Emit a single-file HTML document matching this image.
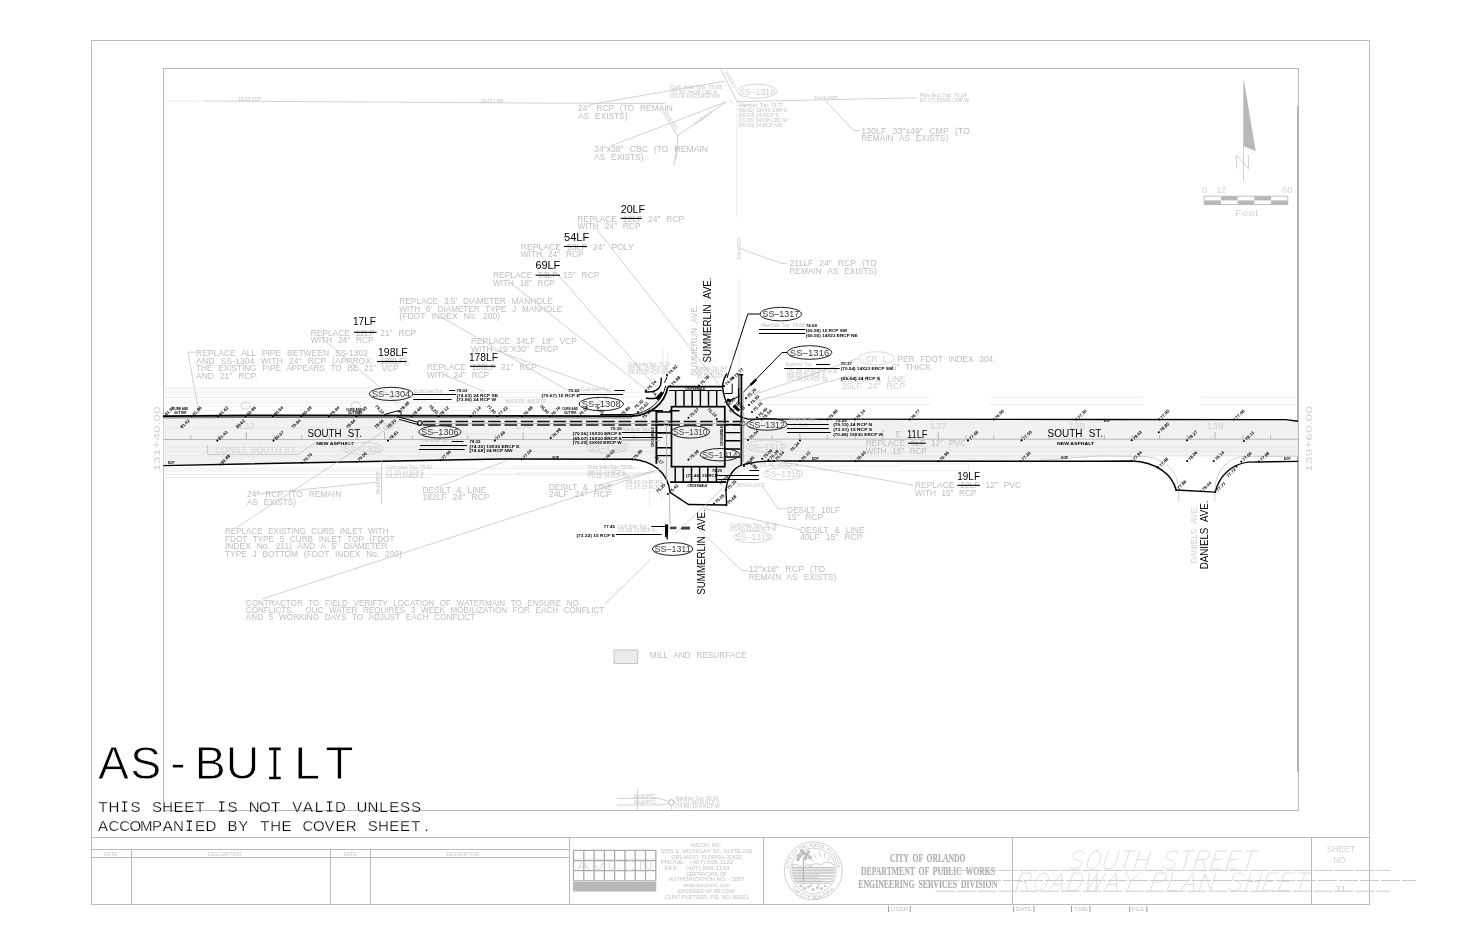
<!DOCTYPE html>
<html><head><meta charset="utf-8"><title>As-Built Roadway Plan Sheet 31</title>
<style>
html,body{margin:0;padding:0;background:#fff;}
body{width:1458px;height:945px;overflow:hidden;}
svg{display:block;will-change:transform;font-family:"Liberation Sans",sans-serif;}
text{font-family:"Liberation Sans",sans-serif;white-space:pre;}
path,ellipse,circle,rect,line{fill:none;}
/* frame */
.fr{stroke:#bbbbbb;stroke-width:1;shape-rendering:crispEdges;}
.fr2{stroke:#a6a6a6;stroke-width:1.4;shape-rendering:crispEdges;}
/* generic gray line work */
.l{stroke:#bdbdbd;stroke-width:.7;}
.lf{stroke:#e4e4e4;stroke-width:.7;}
.lff{stroke:#ededed;stroke-width:.7;}
.kt{stroke:#333;stroke-width:.7;}
.lm{stroke:#a8a8a8;stroke-width:.8;}
.ld{stroke:#c4c4c4;stroke-width:.9;stroke-dasharray:19 2;}
/* black line work */
.k{stroke:#000;stroke-width:1;}
.k2{stroke:#000;stroke-width:1.8;}
.kr{stroke:#000;stroke-width:1.45;}
.k15{stroke:#000;stroke-width:1.4;}
.k3{stroke:#000;stroke-width:1.8;}
.kd{stroke:#111;stroke-width:1.5;stroke-dasharray:12.5 3.8;}
.kf{fill:#000;stroke:none;}
.road{fill:#f1f1f1;stroke:none;}
/* ellipses */
.e{stroke:#111;stroke-width:.95;}
.eg{stroke:#cfcfcf;stroke-width:.8;}
/* text */
.g{fill:#bebebe;font-size:9.2px;word-spacing:.42em;}
.gl{fill:#d0d0d0;font-size:9.2px;word-spacing:.42em;}
.gs{fill:#c2c2c2;font-size:4.6px;}
.gt{fill:#c4c4c4;font-size:5.6px;}
.b{fill:#000;font-size:10.4px;word-spacing:.35em;}
.bs{fill:#000;font-size:4.3px;font-weight:bold;}
.sp{fill:#000;font-size:4.3px;font-weight:bold;}
.ss{fill:#3c3c3c;font-size:9.2px;}
.ssg{fill:#cfcfcf;font-size:9.2px;}
.st{fill:#d3d3d3;font-size:9.4px;}
.ab{fill:#000;font-size:46.4px;stroke:#fff;stroke-width:.8px;}
.ab2{fill:#000;font-size:15px;stroke:#fff;stroke-width:.25px;}
.ser{font-family:"Liberation Serif",serif;font-weight:bold;fill:#adadad;font-size:12.2px;word-spacing:.25em;stroke:#adadad;stroke-width:.15px;}
.ttl{stroke:#d6d6d6;stroke-width:.045;stroke-linecap:round;stroke-linejoin:round;}

</style></head>
<body>
<svg width="1458" height="945" viewBox="0 0 1458 945">
<!-- sheet frame -->
<g id="frame">
<rect class="fr" x="91.5" y="40.5" width="1278" height="864"/>
<rect class="fr" x="163.5" y="68.5" width="1135" height="742"/>
<rect x="1297" y="106" width="2" height="665.5" style="fill:#b2b2b2"/>
<path class="fr" d="M91.5,837.5H1369.5 M131.5,849.5V904 M330.5,849.5V904 M370.5,849.5V904 M569.5,837.5V904 M763.5,837.5V904 M1012.5,837.5V904 M1311.5,837.5V904 M91.5,849.5H569.5 M91.5,857.5H569.5"/>
</g>
<text class="gt" x="110.7" y="855.6" textLength="13.0" lengthAdjust="spacingAndGlyphs" text-anchor="middle">DATE</text>
<text class="gt" x="224.6" y="855.6" textLength="33.0" lengthAdjust="spacingAndGlyphs" text-anchor="middle">DESCRIPTION</text>
<text class="gt" x="350.0" y="855.6" textLength="13.0" lengthAdjust="spacingAndGlyphs" text-anchor="middle">DATE</text>
<text class="gt" x="463.0" y="855.6" textLength="33.0" lengthAdjust="spacingAndGlyphs" text-anchor="middle">DESCRIPTION</text>
<g id="avcon">
<path d="M573.5,850.3V880.8M583.8,850.3V880.8M594.1,850.3V880.8M604.4,850.3V880.8M614.6,850.3V880.8M624.9,850.3V880.8M635.2,850.3V880.8M645.5,850.3V880.8M655.8,850.3V880.8M573.5,850.3H655.8M573.5,860.5H655.8M573.5,870.6H655.8M573.5,880.8H655.8" style="stroke:#ababab;stroke-width:1.3"/>
<rect x="573" y="882" width="83.2" height="9.6" style="fill:#b8b8b8"/>
<path transform="translate(577.0 860.4) scale(15 10.2)" d="M0,1L.4,0L.8,1M.15,.65H.65" style="stroke:#c9c9c9;stroke-width:.06"/>
<path transform="translate(592.6 860.4) scale(15 10.2)" d="M0,0L.4,1L.8,0" style="stroke:#c9c9c9;stroke-width:.06"/>
<path transform="translate(608.2 860.4) scale(15 10.2)" d="M.78,.2C.7,.06 .58,0 .44,0C.2,0 .06,.2 .06,.5C.06,.8 .2,1 .44,1C.58,1 .7,.94 .78,.8" style="stroke:#c9c9c9;stroke-width:.06"/>
<path transform="translate(623.8 860.4) scale(15 10.2)" d="M.42,0C.18,0 .06,.2 .06,.5C.06,.8 .18,1 .42,1C.66,1 .78,.8 .78,.5C.78,.2 .66,0 .42,0Z" style="stroke:#c9c9c9;stroke-width:.06"/>
<path transform="translate(639.4 860.4) scale(15 10.2)" d="M.08,1V0L.76,1V0" style="stroke:#c9c9c9;stroke-width:.06"/>
</g>
<text class="gs" x="706.5" y="846.9" textLength="32.0" lengthAdjust="spacingAndGlyphs" font-size="5.4" text-anchor="middle">AVCON, INC.</text>
<text class="gs" x="706.5" y="853.0" textLength="91.0" lengthAdjust="spacingAndGlyphs" font-size="5.4" text-anchor="middle">5555 E. MICHIGAN ST., SUITE 200</text>
<text class="gs" x="706.5" y="858.6" textLength="70.0" lengthAdjust="spacingAndGlyphs" font-size="5.4" text-anchor="middle">ORLANDO, FLORIDA 32822</text>
<text class="gs" x="697.0" y="864.3" textLength="73.0" lengthAdjust="spacingAndGlyphs" font-size="5.4" text-anchor="middle">PHONE:   (407) 599-1122</text>
<text class="gs" x="697.0" y="869.9" textLength="65.0" lengthAdjust="spacingAndGlyphs" font-size="5.4" text-anchor="middle">FAX:    (407) 599-1133</text>
<text class="gs" x="706.5" y="875.6" textLength="40.0" lengthAdjust="spacingAndGlyphs" font-size="5.4" text-anchor="middle">CERTIFICATE OF</text>
<text class="gs" x="706.5" y="881.2" textLength="76.0" lengthAdjust="spacingAndGlyphs" font-size="5.4" text-anchor="middle">AUTHORIZATION NO. - 5057</text>
<text class="gs" x="706.5" y="886.9" textLength="47.0" lengthAdjust="spacingAndGlyphs" font-size="5.4" text-anchor="middle">www.avconinc.com</text>
<text class="gs" x="706.5" y="892.7" textLength="58.0" lengthAdjust="spacingAndGlyphs" font-size="5.4" text-anchor="middle">ENGINEER OF RECORD</text>
<text class="gs" x="706.5" y="898.9" textLength="84.0" lengthAdjust="spacingAndGlyphs" font-size="5.4" text-anchor="middle">CLINT PLETZER, P.E. NO. 69221</text>
<g id="seal" style="stroke:#bcbcbc;stroke-width:.7">
<circle cx="813.3" cy="870.9" r="29"/><circle cx="813.3" cy="870.9" r="22.8"/>
<path id="sealtop" d="M790.47,879.21A24.3,24.3 0 1 1 836.13,879.21" style="stroke:none"/>
<path id="sealbot" d="M788.55,883.78A27.9,27.9 0 0 0 838.05,883.78" style="stroke:none"/>
<path d="M792.0,867.6H834.6M791.8,869.1H834.8M791.7,870.7H834.9M791.7,872.2H834.9M791.9,873.8H834.7M792.2,875.3H834.4M792.6,876.9H834.0M793.1,878.4H833.5M793.7,880.0H832.9M794.5,881.5H832.1M795.5,883.1H831.1" style="stroke:#c3c3c3;stroke-width:1"/>
<path d="M820,874.5H835M818,877.6H834M822,880.7H832" style="stroke:#fff;stroke-width:.9"/>
<path d="M809,867.6C812,863.5 817,862.5 821,865.5C824,861.5 830,861 835,866" style="stroke-width:.8"/>
<path d="M814,854.5L816.5,859M819,851.5L820.5,857M824.5,853L825,858.5M829,856.5L827.8,861.5M811.5,858.5L813.5,862" style="stroke-width:.7"/>
<path d="M803.5,858V881" style="stroke:#b4b4b4;stroke-width:1.3"/>
<circle cx="799.5" cy="856" r="2.3" style="fill:#bdbdbd;stroke:none"/>
<circle cx="803" cy="853" r="2.4" style="fill:#bdbdbd;stroke:none"/>
<circle cx="807" cy="854.5" r="2.3" style="fill:#bdbdbd;stroke:none"/>
<circle cx="810" cy="857.5" r="2" style="fill:#bdbdbd;stroke:none"/>
<circle cx="798" cy="859.5" r="1.8" style="fill:#bdbdbd;stroke:none"/>
<circle cx="805.5" cy="858" r="2" style="fill:#bdbdbd;stroke:none"/>
<circle cx="801.5" cy="851" r="1.7" style="fill:#bdbdbd;stroke:none"/>
<circle cx="808.5" cy="851.5" r="1.6" style="fill:#bdbdbd;stroke:none"/>
<path d="M792.5,867.5V864.5H797V866H801V867.5M806,867.5V865H811V867.5" style="stroke-width:.7"/>
<circle cx="801" cy="886" r="1.6" style="fill:#c9c9c9;stroke:none"/>
<circle cx="804.5" cy="888.5" r="1.7" style="fill:#c9c9c9;stroke:none"/>
<circle cx="808.5" cy="887" r="1.4" style="fill:#c9c9c9;stroke:none"/>
<circle cx="813" cy="889.5" r="1.6" style="fill:#c9c9c9;stroke:none"/>
<circle cx="817.5" cy="887.5" r="1.5" style="fill:#c9c9c9;stroke:none"/>
<circle cx="821.5" cy="888.5" r="1.5" style="fill:#c9c9c9;stroke:none"/>
<circle cx="825" cy="886" r="1.3" style="fill:#c9c9c9;stroke:none"/>
<circle cx="811" cy="885.5" r="1.2" style="fill:#c9c9c9;stroke:none"/>
<circle cx="819" cy="884.8" r="1.1" style="fill:#c9c9c9;stroke:none"/>
</g>
<text class="gs" font-size="6.2" style="fill:#b2b2b2;letter-spacing:.28px"><textPath href="#sealtop" startOffset="50%" text-anchor="middle">CITY OF ORLANDO, FLORIDA</textPath></text>
<text class="gs" font-size="5.7" style="fill:#b2b2b2;letter-spacing:.1px"><textPath href="#sealbot" startOffset="50%" text-anchor="middle">THE CITY BEAUTIFUL</textPath></text>
<text class="ser" x="927.7" y="862.2" textLength="75.2" lengthAdjust="spacingAndGlyphs" text-anchor="middle">CITY OF ORLANDO</text>
<text class="ser" x="928.0" y="874.9" textLength="134.0" lengthAdjust="spacingAndGlyphs" text-anchor="middle">DEPARTMENT OF PUBLIC WORKS</text>
<text class="ser" x="927.8" y="887.8" textLength="139.0" lengthAdjust="spacingAndGlyphs" text-anchor="middle">ENGINEERING SERVICES DIVISION</text>
<path class="ld" d="M935.5,870.4H1390"/>
<path class="ld" d="M919,880.5H1416"/>
<path class="ld" d="M935.5,891.2H1390"/>
<path d="M888.5,906V912M910.3,906V912" style="stroke:#9c9c9c;stroke-width:1"/>
<text class="gt" x="899.4" y="911.0" textLength="17.3" lengthAdjust="spacingAndGlyphs" font-size="5.6" text-anchor="middle">USER</text>
<path d="M1013.6,906V912M1034.0,906V912" style="stroke:#9c9c9c;stroke-width:1"/>
<text class="gt" x="1023.8" y="911.0" textLength="15.9" lengthAdjust="spacingAndGlyphs" font-size="5.6" text-anchor="middle">DATE</text>
<path d="M1071.5,906V912M1090.0,906V912" style="stroke:#9c9c9c;stroke-width:1"/>
<text class="gt" x="1080.8" y="911.0" textLength="14.0" lengthAdjust="spacingAndGlyphs" font-size="5.6" text-anchor="middle">TIME</text>
<path d="M1129.8,906V912M1146.8,906V912" style="stroke:#9c9c9c;stroke-width:1"/>
<text class="gt" x="1138.3" y="911.0" textLength="12.5" lengthAdjust="spacingAndGlyphs" font-size="5.6" text-anchor="middle">FILE</text>
<text class="st" x="1341.0" y="852.0" textLength="28.3" lengthAdjust="spacingAndGlyphs" font-size="9.6" text-anchor="middle">SHEET</text>
<text class="st" x="1340.7" y="862.8" textLength="14.2" lengthAdjust="spacingAndGlyphs" font-size="9.6" text-anchor="middle">NO.</text>
<text class="st" x="1340.4" y="891.5" textLength="11.2" lengthAdjust="spacingAndGlyphs" font-size="11.4" text-anchor="middle">31</text>
<g class="ttl" transform="translate(1067.6 869.0) skewX(-18) scale(16.033 18.0) translate(0 -1)">
<path transform="translate(0.000 0)" d="M.75,.14C.68,.04 .56,0 .42,0C.2,0 .08,.1 .08,.25C.08,.42 .25,.46 .42,.5C.62,.55 .78,.6 .78,.76C.78,.92 .62,1 .42,1C.25,1 .12,.95 .05,.84"/>
<path transform="translate(1.050 0)" d="M.42,0C.18,0 .06,.2 .06,.5C.06,.8 .18,1 .42,1C.66,1 .78,.8 .78,.5C.78,.2 .66,0 .42,0Z"/>
<path transform="translate(2.100 0)" d="M.08,0V.7C.08,.9 .2,1 .42,1C.64,1 .76,.9 .76,.7V0"/>
<path transform="translate(3.150 0)" d="M0,0H.7M.35,0V1"/>
<path transform="translate(4.070 0)" d="M.08,0V1M.76,0V1M.08,.48H.76"/>
<path transform="translate(5.820 0)" d="M.75,.14C.68,.04 .56,0 .42,0C.2,0 .08,.1 .08,.25C.08,.42 .25,.46 .42,.5C.62,.55 .78,.6 .78,.76C.78,.92 .62,1 .42,1C.25,1 .12,.95 .05,.84"/>
<path transform="translate(6.870 0)" d="M0,0H.7M.35,0V1"/>
<path transform="translate(7.790 0)" d="M.08,1V0H.48C.68,0 .76,.1 .76,.24C.76,.38 .68,.48 .48,.48H.08M.46,.48L.78,1"/>
<path transform="translate(8.840 0)" d="M.7,0H.08V1H.7M.08,.48H.5"/>
<path transform="translate(9.820 0)" d="M.7,0H.08V1H.7M.08,.48H.5"/>
<path transform="translate(10.800 0)" d="M0,0H.7M.35,0V1"/>
</g>
<g class="ttl" transform="translate(1014.5 890.6) skewX(-18) scale(16.449 17.5) translate(0 -1)">
<path transform="translate(0.000 0)" d="M.08,1V0H.48C.68,0 .76,.1 .76,.24C.76,.38 .68,.48 .48,.48H.08M.46,.48L.78,1"/>
<path transform="translate(1.050 0)" d="M.42,0C.18,0 .06,.2 .06,.5C.06,.8 .18,1 .42,1C.66,1 .78,.8 .78,.5C.78,.2 .66,0 .42,0Z"/>
<path transform="translate(2.100 0)" d="M0,1L.4,0L.8,1M.15,.65H.65"/>
<path transform="translate(3.140 0)" d="M.08,0V1H.4C.66,1 .78,.8 .78,.5C.78,.2 .66,0 .4,0Z"/>
<path transform="translate(4.190 0)" d="M0,0L.25,1L.5,0L.75,1L1,0"/>
<path transform="translate(5.430 0)" d="M0,1L.4,0L.8,1M.15,.65H.65"/>
<path transform="translate(6.470 0)" d="M0,0L.4,.48L.8,0M.4,.48V1"/>
<path transform="translate(8.190 0)" d="M.08,1V0H.48C.68,0 .76,.1 .76,.26C.76,.42 .68,.52 .48,.52H.08"/>
<path transform="translate(9.210 0)" d="M.08,0V1H.66"/>
<path transform="translate(10.110 0)" d="M0,1L.4,0L.8,1M.15,.65H.65"/>
<path transform="translate(11.150 0)" d="M.08,1V0L.76,1V0"/>
<path transform="translate(12.900 0)" d="M.75,.14C.68,.04 .56,0 .42,0C.2,0 .08,.1 .08,.25C.08,.42 .25,.46 .42,.5C.62,.55 .78,.6 .78,.76C.78,.92 .62,1 .42,1C.25,1 .12,.95 .05,.84"/>
<path transform="translate(13.950 0)" d="M.08,0V1M.76,0V1M.08,.48H.76"/>
<path transform="translate(15.000 0)" d="M.7,0H.08V1H.7M.08,.48H.5"/>
<path transform="translate(15.980 0)" d="M.7,0H.08V1H.7M.08,.48H.5"/>
<path transform="translate(16.960 0)" d="M0,0H.7M.35,0V1"/>
</g>
<text class="ab" x="113.4" y="779.4" text-anchor="middle">A</text>
<text class="ab" x="145.7" y="779.4" text-anchor="middle">S</text>
<text class="ab" x="178.0" y="779.4" text-anchor="middle">-</text>
<text class="ab" x="210.3" y="779.4" text-anchor="middle">B</text>
<text class="ab" x="242.6" y="779.4" text-anchor="middle">U</text>
<path d="M269.1,748.8H280.7M269.1,778H280.7M274.9,748.8V778" style="stroke:#000;stroke-width:2.7"/>
<text class="ab" x="307.2" y="779.4" text-anchor="middle">L</text>
<text class="ab" x="339.5" y="779.4" text-anchor="middle">T</text>
<text class="ab2" x="103.0" y="811.5" text-anchor="middle">T</text>
<text class="ab2" x="113.8" y="811.5" text-anchor="middle">H</text>
<path d="M121.9,801.9H127.3M121.9,811.0H127.3M124.6,801.9V811.0" style="stroke:#000;stroke-width:1.05"/>
<text class="ab2" x="135.4" y="811.5" text-anchor="middle">S</text>
<text class="ab2" x="156.9" y="811.5" text-anchor="middle">S</text>
<text class="ab2" x="167.7" y="811.5" text-anchor="middle">H</text>
<text class="ab2" x="178.5" y="811.5" text-anchor="middle">E</text>
<text class="ab2" x="189.3" y="811.5" text-anchor="middle">E</text>
<text class="ab2" x="200.1" y="811.5" text-anchor="middle">T</text>
<path d="M219.0,801.9H224.4M219.0,811.0H224.4M221.7,801.9V811.0" style="stroke:#000;stroke-width:1.05"/>
<text class="ab2" x="232.5" y="811.5" text-anchor="middle">S</text>
<text class="ab2" x="254.1" y="811.5" text-anchor="middle">N</text>
<text class="ab2" x="264.9" y="811.5" text-anchor="middle">O</text>
<text class="ab2" x="275.6" y="811.5" text-anchor="middle">T</text>
<text class="ab2" x="297.2" y="811.5" text-anchor="middle">V</text>
<text class="ab2" x="308.0" y="811.5" text-anchor="middle">A</text>
<text class="ab2" x="318.8" y="811.5" text-anchor="middle">L</text>
<path d="M326.9,801.9H332.3M326.9,811.0H332.3M329.6,801.9V811.0" style="stroke:#000;stroke-width:1.05"/>
<text class="ab2" x="340.4" y="811.5" text-anchor="middle">D</text>
<text class="ab2" x="362.0" y="811.5" text-anchor="middle">U</text>
<text class="ab2" x="372.8" y="811.5" text-anchor="middle">N</text>
<text class="ab2" x="383.5" y="811.5" text-anchor="middle">L</text>
<text class="ab2" x="394.3" y="811.5" text-anchor="middle">E</text>
<text class="ab2" x="405.1" y="811.5" text-anchor="middle">S</text>
<text class="ab2" x="415.9" y="811.5" text-anchor="middle">S</text>
<text class="ab2" x="103.0" y="830.7" text-anchor="middle">A</text>
<text class="ab2" x="113.8" y="830.7" text-anchor="middle">C</text>
<text class="ab2" x="124.6" y="830.7" text-anchor="middle">C</text>
<text class="ab2" x="135.4" y="830.7" text-anchor="middle">O</text>
<text class="ab2" x="146.2" y="830.7" text-anchor="middle">M</text>
<text class="ab2" x="156.9" y="830.7" text-anchor="middle">P</text>
<text class="ab2" x="167.7" y="830.7" text-anchor="middle">A</text>
<text class="ab2" x="178.5" y="830.7" text-anchor="middle">N</text>
<path d="M186.6,821.1H192.0M186.6,830.2H192.0M189.3,821.1V830.2" style="stroke:#000;stroke-width:1.05"/>
<text class="ab2" x="200.1" y="830.7" text-anchor="middle">E</text>
<text class="ab2" x="210.9" y="830.7" text-anchor="middle">D</text>
<text class="ab2" x="232.5" y="830.7" text-anchor="middle">B</text>
<text class="ab2" x="243.3" y="830.7" text-anchor="middle">Y</text>
<text class="ab2" x="264.9" y="830.7" text-anchor="middle">T</text>
<text class="ab2" x="275.6" y="830.7" text-anchor="middle">H</text>
<text class="ab2" x="286.4" y="830.7" text-anchor="middle">E</text>
<text class="ab2" x="308.0" y="830.7" text-anchor="middle">C</text>
<text class="ab2" x="318.8" y="830.7" text-anchor="middle">O</text>
<text class="ab2" x="329.6" y="830.7" text-anchor="middle">V</text>
<text class="ab2" x="340.4" y="830.7" text-anchor="middle">E</text>
<text class="ab2" x="351.2" y="830.7" text-anchor="middle">R</text>
<text class="ab2" x="372.8" y="830.7" text-anchor="middle">S</text>
<text class="ab2" x="383.5" y="830.7" text-anchor="middle">H</text>
<text class="ab2" x="394.3" y="830.7" text-anchor="middle">E</text>
<text class="ab2" x="405.1" y="830.7" text-anchor="middle">E</text>
<text class="ab2" x="415.9" y="830.7" text-anchor="middle">T</text>
<text class="ab2" x="426.7" y="830.7" text-anchor="middle">.</text>
<g id="north">
<path d="M1244,81L1243.5,146.2L1255.7,150.9Z" style="fill:#b8b8b8"/>
<path class="l" d="M1243.5,81V181"/>
<path class="l" d="M1236.4,168.7V155.2L1248.6,168.7V155.2"/>
</g>
<g id="scalebar">
<rect x="1204.2" y="200.4" width="16.7" height="4.2" style="fill:#b8b8b8"/>
<rect x="1220.9" y="196.2" width="16.7" height="4.2" style="fill:#b8b8b8"/>
<rect x="1237.6" y="200.4" width="16.7" height="4.2" style="fill:#b8b8b8"/>
<rect x="1254.4" y="196.2" width="16.7" height="4.2" style="fill:#b8b8b8"/>
<rect x="1271.1" y="200.4" width="16.7" height="4.2" style="fill:#b8b8b8"/>
<rect x="1204.2" y="196.2" width="83.6" height="8.4" style="stroke:#b8b8b8;stroke-width:.9"/>
<text class="st" x="1204.5" y="192.7" font-size="8.2" text-anchor="middle">0</text>
<text class="st" x="1221.2" y="192.7" textLength="9.0" lengthAdjust="spacingAndGlyphs" font-size="8.2" text-anchor="middle">12</text>
<text class="st" x="1287.3" y="192.7" textLength="10.5" lengthAdjust="spacingAndGlyphs" font-size="8.2" text-anchor="middle">60</text>
<text class="st" x="1246.6" y="216.4" textLength="23.0" lengthAdjust="spacingAndGlyphs" font-size="9.6" text-anchor="middle">Feet</text>
</g>
<rect x="614" y="650" width="23.8" height="13.5" style="fill:#ebebeb;stroke:#bdbdbd;stroke-width:.8"/>
<text class="g" x="649.8" y="657.8" textLength="97.0" lengthAdjust="spacingAndGlyphs" font-size="7.8">MILL AND RESURFACE</text>
<g id="faint">
<path class="lf" d="M163.5,388.0H372"/>
<path class="lf" d="M163.5,392.3H640"/>
<path class="lf" d="M163.5,397.3H640"/>
<path class="lf" d="M163.5,402.8H640"/>
<path class="lf" d="M163.5,468.3H640"/>
<path class="lf" d="M163.5,470.8H380"/>
<path class="lf" d="M163.5,474.4H640"/>
<path class="lf" d="M163.5,477.3H430"/>
<path class="lf" d="M514,466.0H632"/>
<path class="lf" d="M514,472.8H660"/>
<path class="lff" d="M163.5,390.2H600"/>
<path class="lff" d="M163.5,395.0H372"/>
<path class="lff" d="M163.5,400.2H600"/>
<path class="lff" d="M163.5,406.6H560"/>
<path class="lff" d="M200,410.6H640"/>
<path class="lf" d="M762,397.4H930M990,397.4H1142M1202,397.4H1297"/>
<path class="lf" d="M762,404.5H930M990,404.5H1142M1202,404.5H1297"/>
<path class="lf" d="M762,466H900M790,470H860M900,464H968.8V470.5H900"/>
<path class="l" d="M242.0,407.8c-1.5,-1 -1.5,-3 0,-3.5c0,-2 2.5,-3 4,-1.8c1.5,-1.2 3.6,0 3.4,1.8c1.6,.6 1.6,2.8 0,3.5c-1,1.6 -3,1.6 -3.8,.4c-1.2,.9 -3,.6 -3.6,-.4z"/>
<path class="l" d="M352.0,407.5c-1.5,-1 -1.5,-3 0,-3.5c0,-2 2.5,-3 4,-1.8c1.5,-1.2 3.6,0 3.4,1.8c1.6,.6 1.6,2.8 0,3.5c-1,1.6 -3,1.6 -3.8,.4c-1.2,.9 -3,.6 -3.6,-.4z"/>
<path class="l" d="M598.0,400.0c-1.5,-1 -1.5,-3 0,-3.5c0,-2 2.5,-3 4,-1.8c1.5,-1.2 3.6,0 3.4,1.8c1.6,.6 1.6,2.8 0,3.5c-1,1.6 -3,1.6 -3.8,.4c-1.2,.9 -3,.6 -3.6,-.4z"/>
</g>
<g id="roadfill">
<path class="road" d="M163.5,416.5 L632,416 C650,414.5 665,404 667.8,386.7 L722.6,386.7 C724,404 733,416 748,419 L1286,419.6 L1298,421.3 L1298,456.4 L1100,455.8 L1040,460.6 L775,461 C756,462 742,470 728,482.2 L670,482.2 C662,470 650,460 632,459.2 L500,459 L163.5,465.6Z"/>
</g>
<g id="inroad">
<path class="lf" d="M163.5,447.2H656"/>
<path class="lf" d="M163.5,451.4H656"/>
<path class="lf" d="M163.5,456.0H500"/>
<path class="lf" d="M163.5,428.0H400"/>
<path class="lf" d="M420,434.0H656"/>
<path class="lf" d="M742,447.2H1298"/>
<path class="lf" d="M742,451.4H1298"/>
<path class="lf" d="M742,456.0H1298"/>
</g>
<g id="baseline">
<path class="lm" d="M163.5,439.5H656M742,439.2H1298"/>
<path class="lm" d="M190.9,439.4V435.2M218.6,439.4V435.2M246.3,439.4V432.0M274.0,439.4V435.2M301.7,439.4V435.2M329.3,439.4V435.2M357.0,439.4V435.2M384.7,439.4V432.0M412.4,439.4V435.2M440.1,439.4V435.2M467.7,439.4V435.2M495.4,439.4V435.2M523.1,439.4V432.0M550.8,439.4V435.2M578.5,439.4V435.2M606.1,439.4V435.2M633.8,439.4V435.2M772.2,439.4V435.2M799.9,439.4V432.0M827.6,439.4V435.2M855.3,439.4V435.2M882.9,439.4V435.2M910.6,439.4V435.2M938.3,439.4V432.0M966.0,439.4V435.2M993.7,439.4V435.2M1021.3,439.4V435.2M1049.0,439.4V435.2M1076.7,439.4V432.0M1104.4,439.4V435.2M1132.1,439.4V435.2M1159.7,439.4V435.2M1187.4,439.4V435.2M1215.1,439.4V432.0M1242.8,439.4V435.2M1270.5,439.4V435.2"/>
<text class="st" x="246.3" y="428.8" textLength="17.0" lengthAdjust="spacingAndGlyphs" text-anchor="middle">132</text>
<text class="st" x="384.7" y="428.8" textLength="17.0" lengthAdjust="spacingAndGlyphs" text-anchor="middle">133</text>
<text class="st" x="523.1" y="428.8" textLength="17.0" lengthAdjust="spacingAndGlyphs" text-anchor="middle">134</text>
<text class="st" x="799.9" y="428.8" textLength="17.0" lengthAdjust="spacingAndGlyphs" text-anchor="middle">136</text>
<text class="st" x="938.3" y="428.8" textLength="17.0" lengthAdjust="spacingAndGlyphs" text-anchor="middle">137</text>
<text class="st" x="1076.7" y="428.8" textLength="17.0" lengthAdjust="spacingAndGlyphs" text-anchor="middle">138</text>
<text class="st" x="1215.1" y="428.8" textLength="17.0" lengthAdjust="spacingAndGlyphs" text-anchor="middle">139</text>
<text class="st" x="159.6" y="471.5" textLength="65.0" lengthAdjust="spacingAndGlyphs" font-size="13.2" transform="rotate(-90 159.6 471.5)">131+40.00</text>
<text class="st" x="1312.0" y="472.0" textLength="66.0" lengthAdjust="spacingAndGlyphs" font-size="13.2" transform="rotate(-90 1312.0 472.0)">139+60.00</text>
<text class="st" x="214.9" y="452.8" textLength="82.0" lengthAdjust="spacingAndGlyphs" font-size="8.0">CONST. SOUTH ST.</text>
<path class="l" d="M207.5,446V454.4M206,446H209M208,454.4H298.2L315.5,442.3"/>
</g>
<path class="l" d="M1040,460.4L1100,455.9L1142.3,456.4M1243.9,456.4L1298,456.3"/>
<path class="l" d="M1142.3,456.4C1163,457 1178,470 1178.7,490V501.6M1243.9,456.4C1228,458 1215.5,470 1214.9,490V501.6"/>
<path class="lm" d="M670,492C669,503 670,514 670,524.5"/>
<path class="lf" d="M649.6,473V507M661.6,473V500"/>
<g id="edges">
<path class="k2" d="M163.5,416.2L250,415.5L335,415.5L632,416.2C650,415 665,404 667.8,386.7"/>
<path class="kt" d="M163.5,417.9L250,417.5L632,417.9"/>
<path class="k" d="M600,414.6L632,414.5C648,413 662,402 665.6,386"/>
<path class="k15" d="M644.7,391.8C652,392.6 658,391 660.6,385.2C661.4,382 661.4,380 661.2,377.6"/>
<path class="k15" d="M163.5,465.6L500,459L632,459.2C652,460.5 668,472 670,492.3L688.6,504.5L726.7,505L725.9,490.6C727,478 733,468 741.5,465.2"/>
<path class="k15" d="M748,419.1L1100,419.5L1286,419.6L1298,421.3"/>
<path class="k15" d="M722.6,386.7C724,404 733,416 748,419.1"/>
<path class="k15" d="M722.6,386.7C722.8,382 724.5,377 727,373.5"/>
<path class="k15" d="M741.5,465.2C752,462 763,461 775,461L1100,461.3L1131.7,461C1156,462 1172,474 1176.2,490L1215.3,492.1C1219,476 1232,464 1248,462.1L1298,461.4"/>
</g>
<g id="xing">
<rect x="671.5" y="406.7" width="53.3" height="60" style="stroke:#000;stroke-width:1.7"/>
<path class="k3" d="M667.8,386.7H722.6"/>
<path class="k" d="M669,390.5H722"/>
<path class="kr" d="M675.6,391V406M684.0,391V406M692.2,391V406M700.4,391V406M708.5,391V406M716.7,391V406"/>
<path class="k3" d="M670,482.2H726.3"/>
<path class="kr" d="M675.2,467.5V482M683.3,467.5V482M691.5,467.5V482M699.6,467.5V482M707.8,467.5V482M716.4,467.5V482"/>
<path class="k3" d="M656.4,411V463.8"/>
<path class="kr" d="M656.4,412.0H671M656.4,424.5H671M656.4,433.0H671M656.4,447.8H671M656.4,455.6H671"/>
<path class="k3" d="M741.4,374.5V465.2"/>
<path class="lm" d="M743.6,392V462"/>
<path class="kr" d="M725,424.7H740.4M725,432.6H740.4M725,440.7H740.4M725,448.9H740.4M725,457.0H740.4"/>
<text class="bs" x="695.3" y="389.9" textLength="20.0" lengthAdjust="spacingAndGlyphs" font-size="3.2" text-anchor="middle">CROSSWALK</text>
<text class="bs" x="697.5" y="487.0" textLength="20.0" lengthAdjust="spacingAndGlyphs" font-size="3.2" text-anchor="middle">CROSSWALK</text>
<text class="bs" x="722.6" y="436.0" textLength="20.0" lengthAdjust="spacingAndGlyphs" font-size="3.2" text-anchor="middle" transform="rotate(-90 722.6 436.0)">CROSSWALK</text>
<text class="bs" x="654.2" y="437.0" textLength="20.0" lengthAdjust="spacingAndGlyphs" font-size="3.2" text-anchor="middle" transform="rotate(-90 654.2 437.0)">CROSSWALK</text>
<path d="M656.7,399.3L662.4,392.3" style="stroke:#000;stroke-width:3.1"/>
<path d="M733.5,405.6L739.2,410.7" style="stroke:#000;stroke-width:3.1"/>
<path d="M727.1,399.3L731,401.4" style="stroke:#000;stroke-width:2.6"/>
<path d="M738.7,374.5V404.4M737.8,374.8H743.2" style="stroke:#000;stroke-width:1.6"/>
<path class="k15" d="M645.9,398C651,398.9 654,398.6 656.5,398"/>
<path class="k" d="M664.3,382.8C665.8,380 667,377.5 667.5,375"/>
<path class="k15" d="M652,410.7H663M669.4,410.7H679.5"/>
<path class="k" d="M732.2,383.5V393.5H724.6"/>
<path class="k" d="M724.6,402.5L740,396"/>
</g>
<g id="pipes">
<path class="lm" d="M420,423.4H742"/>
<path class="kd" d="M423,421.5H742"/>
<path class="kd" d="M423,424.9H742"/>
<circle cx="419.9" cy="423.1" r="2.3" style="stroke:#000;stroke-width:1.1"/>
<path class="k" d="M397,416.6L417.8,422.2M399,419.4L418.4,424.6"/>
<path class="k" d="M384.3,414.6L397,411H401V414.6"/>
<circle cx="666.5" cy="423.3" r="2.6" style="stroke:#9a9a9a;stroke-width:.9"/>
<circle cx="742.8" cy="423.4" r="2.4" style="stroke:#555;stroke-width:.9"/>
<path class="lm" d="M666.5,426V482"/>
<path class="lm" d="M742.3,426V466"/>
<path class="kf" d="M665.9,524.5H668.3L667.8,539.4H666.6Z"/>
<path d="M665.8,524.5V537" style="stroke:#000;stroke-width:1.6"/>
<rect x="670" y="526.6" width="6.5" height="2.6" style="fill:#444"/>
<rect x="681" y="526.6" width="9" height="3" style="fill:#444"/>
</g>
<g id="top">
<path class="lf" d="M163.5,100.8L205,101"/>
<path class="l" d="M205,101L560,103.2L665,103.5"/>
<text class="gs" x="238.4" y="101.1" textLength="22.6" lengthAdjust="spacingAndGlyphs" font-size="4.2">15x15 VCP</text>
<text class="gs" x="480.5" y="103.0" textLength="22.8" lengthAdjust="spacingAndGlyphs" font-size="4.2">18x18 CMP</text>
<path class="l" d="M589.6,104.6L724.6,81.2"/>
<path class="l" d="M726,102L609,146.5"/>
<path class="l" d="M726,102L677.7,135.8"/>
<path class="l" d="M660.4,108.7L677.7,135.8C678,146 676,156 673.6,165.5"/>
<path class="l" d="M720.5,68.5L737,101.3"/>
<path class="lf" d="M736.9,101.5V217.7M738.8,278V388"/>
<path class="l" d="M736.3,101.7L915.9,97.8"/>
<text class="gs" x="670.0" y="89.0" textLength="52.0" lengthAdjust="spacingAndGlyphs">Curb Inlet Top: 73.83</text>
<text class="gs" x="670.0" y="93.7" textLength="47.0" lengthAdjust="spacingAndGlyphs">(70.36) 34x38 CBC E</text>
<text class="gs" x="670.0" y="98.3" textLength="50.0" lengthAdjust="spacingAndGlyphs">(70.24) 14X23 RCP NW</text>
<text class="gs" x="738.6" y="107.4" textLength="44.8" lengthAdjust="spacingAndGlyphs">Manhole Top: 75.77</text>
<text class="gs" x="738.6" y="112.2" textLength="49.0" lengthAdjust="spacingAndGlyphs">(69.62) 33X49 CMP E</text>
<text class="gs" x="738.6" y="117.0" textLength="40.0" lengthAdjust="spacingAndGlyphs">(65.64) 24 RCP S</text>
<text class="gs" x="738.6" y="121.9" textLength="49.0" lengthAdjust="spacingAndGlyphs">(70.30) 34X38 CBC W</text>
<text class="gs" x="738.6" y="126.7" textLength="44.0" lengthAdjust="spacingAndGlyphs">(65.60) 24 RCP NW</text>
<text class="gs" x="919.7" y="97.3" textLength="47.0" lengthAdjust="spacingAndGlyphs">Pipe End Top: 76.24</text>
<text class="gs" x="919.7" y="101.7" textLength="49.3" lengthAdjust="spacingAndGlyphs">(67.07) 33X49 CMP W</text>
<text class="gs" x="814.1" y="99.6" textLength="23.0" lengthAdjust="spacingAndGlyphs" font-size="4.2" transform="rotate(-1.2 814.1 99.6)">33x49 CMP</text>
<text class="gs" x="695.0" y="125.5" textLength="21.0" lengthAdjust="spacingAndGlyphs" font-size="4.2" transform="rotate(-35 695.0 125.5)">14x23 RCP</text>
<text class="gs" x="664.0" y="112.0" textLength="21.0" lengthAdjust="spacingAndGlyphs" font-size="4.2" transform="rotate(57 664.0 112.0)">24x38 CBC</text>
<text class="gs" x="676.5" y="160.0" textLength="13.0" lengthAdjust="spacingAndGlyphs" font-size="4.2" transform="rotate(-80 676.5 160.0)">24x38</text>
<text class="gs" x="725.0" y="72.0" textLength="20.0" lengthAdjust="spacingAndGlyphs" font-size="4.2" transform="rotate(63 725.0 72.0)">14x23 RCP</text>
<text class="gs" x="740.5" y="259.5" textLength="22.0" lengthAdjust="spacingAndGlyphs" font-size="4.2" transform="rotate(-90 740.5 259.5)">24x4 RCP</text>
<rect x="738.2" y="100.8" width="1.2" height="1.2" style="fill:#f2c24a"/><rect x="730" y="100.8" width="1.2" height="1.2" style="fill:#f2c24a"/>
<ellipse class="eg" cx="757.0" cy="91.2" rx="20.0" ry="7.0"/>
<text class="ssg" x="757.0" y="94.5" textLength="36.0" lengthAdjust="spacingAndGlyphs" text-anchor="middle">SS–1318</text>
</g>
<g id="notes">
<text class="g" x="578.1" y="110.8" textLength="94.7" lengthAdjust="spacingAndGlyphs">24" RCP (TO REMAIN</text>
<text class="g" x="578.1" y="118.6" textLength="49.5" lengthAdjust="spacingAndGlyphs">AS EXISTS)</text>
<text class="g" x="594.1" y="152.3" textLength="114.0" lengthAdjust="spacingAndGlyphs">34"x38" CBC (TO REMAIN</text>
<text class="g" x="594.1" y="160.2" textLength="49.5" lengthAdjust="spacingAndGlyphs">AS EXISTS)</text>
<text class="g" x="861.2" y="133.8" textLength="108.8" lengthAdjust="spacingAndGlyphs">130LF 33"x49" CMP (TO</text>
<text class="g" x="861.2" y="141.4" textLength="87.0" lengthAdjust="spacingAndGlyphs">REMAIN AS EXISTS)</text>
<text class="g" x="789.4" y="266.4" textLength="87.3" lengthAdjust="spacingAndGlyphs">211LF 24" RCP (TO</text>
<text class="g" x="789.4" y="274.4" textLength="87.3" lengthAdjust="spacingAndGlyphs">REMAIN AS EXISTS)</text>
<text class="g" x="577.5" y="221.6" textLength="106.7" lengthAdjust="spacingAndGlyphs">REPLACE 12LF 24" RCP</text>
<text class="g" x="577.5" y="229.0" textLength="63.0" lengthAdjust="spacingAndGlyphs">WITH 24" RCP</text>
<text class="g" x="520.7" y="250.0" textLength="113.1" lengthAdjust="spacingAndGlyphs">REPLACE 53LF 24" POLY</text>
<text class="g" x="520.7" y="257.4" textLength="63.0" lengthAdjust="spacingAndGlyphs">WITH 24" RCP</text>
<text class="g" x="493.0" y="278.4" textLength="106.3" lengthAdjust="spacingAndGlyphs">REPLACE 53LF 15" RCP</text>
<text class="g" x="493.0" y="285.8" textLength="61.8" lengthAdjust="spacingAndGlyphs">WITH 18" RCP</text>
<text class="g" x="399.3" y="304.0" textLength="153.5" lengthAdjust="spacingAndGlyphs">REPLACE 3.5' DIAMETER MANHOLE</text>
<text class="g" x="399.3" y="311.6" textLength="162.9" lengthAdjust="spacingAndGlyphs">WITH 6' DIAMETER TYPE J MANHOLE</text>
<text class="g" x="399.3" y="319.1" textLength="100.9" lengthAdjust="spacingAndGlyphs">(FDOT INDEX No. 200)</text>
<text class="g" x="470.9" y="344.3" textLength="105.9" lengthAdjust="spacingAndGlyphs">REPLACE 34LF 18" VCP</text>
<text class="g" x="470.9" y="351.8" textLength="87.4" lengthAdjust="spacingAndGlyphs">WITH 19"X30" ERCP</text>
<text class="g" x="426.9" y="369.8" textLength="109.9" lengthAdjust="spacingAndGlyphs">REPLACE 188LF 21" RCP</text>
<text class="g" x="426.9" y="377.7" textLength="62.2" lengthAdjust="spacingAndGlyphs">WITH 24" RCP</text>
<text class="g" x="310.8" y="335.5" textLength="105.2" lengthAdjust="spacingAndGlyphs">REPLACE 12LF 21" RCP</text>
<text class="g" x="310.8" y="342.6" textLength="62.8" lengthAdjust="spacingAndGlyphs">WITH 24" RCP</text>
<text class="g" x="196.1" y="356.3" textLength="171.9" lengthAdjust="spacingAndGlyphs">REPLACE ALL PIPE BETWEEN SS-1302</text>
<text class="g" x="196.1" y="363.8" textLength="213.6" lengthAdjust="spacingAndGlyphs">AND SS-1304 WITH 24" RCP (APPROX. 188LF).</text>
<text class="g" x="196.1" y="371.2" textLength="202.6" lengthAdjust="spacingAndGlyphs">THE EXISTING PIPE APPEARS TO BE 21" VCP</text>
<text class="g" x="196.1" y="378.7" textLength="61.3" lengthAdjust="spacingAndGlyphs">AND 21" RCP.</text>
<text class="g" x="247.1" y="497.4" textLength="94.1" lengthAdjust="spacingAndGlyphs">24" RCP (TO REMAIN</text>
<text class="g" x="247.1" y="505.1" textLength="48.9" lengthAdjust="spacingAndGlyphs">AS EXISTS)</text>
<text class="g" x="225.0" y="533.9" textLength="163.6" lengthAdjust="spacingAndGlyphs">REPLACE EXISTING CURB INLET WITH</text>
<text class="g" x="225.0" y="541.5" textLength="169.4" lengthAdjust="spacingAndGlyphs">FDOT TYPE 5 CURB INLET TOP (FDOT</text>
<text class="g" x="225.0" y="549.0" textLength="162.3" lengthAdjust="spacingAndGlyphs">INDEX No. 211) AND A 5' DIAMETER</text>
<text class="g" x="225.0" y="556.6" textLength="176.7" lengthAdjust="spacingAndGlyphs">TYPE J BOTTOM (FDOT INDEX No. 200)</text>
<text class="g" x="422.4" y="492.6" textLength="63.6" lengthAdjust="spacingAndGlyphs">DESILT &amp; LINE</text>
<text class="g" x="422.4" y="499.8" textLength="67.1" lengthAdjust="spacingAndGlyphs">182LF 24" RCP</text>
<text class="g" x="548.8" y="490.0" textLength="63.8" lengthAdjust="spacingAndGlyphs">DESILT &amp; LINE</text>
<text class="g" x="548.8" y="497.3" textLength="63.0" lengthAdjust="spacingAndGlyphs">24LF 24" RCP</text>
<text class="g" x="245.8" y="605.6" textLength="333.1" lengthAdjust="spacingAndGlyphs" font-size="7.6">CONTRACTOR TO FIELD VERIFTY LOCATION OF WATERMAIN TO ENSURE NO</text>
<text class="g" x="245.8" y="613.0" textLength="358.4" lengthAdjust="spacingAndGlyphs" font-size="7.6">CONFLICTS.  OUC WATER REQUIRES 3 WEEK MOBILIZATION FOR EACH CONFLICT</text>
<text class="g" x="245.8" y="620.4" textLength="229.4" lengthAdjust="spacingAndGlyphs" font-size="7.6">AND 5 WORKING DAYS TO ADJUST EACH CONFLICT</text>
<text class="g" x="787.0" y="512.6" textLength="53.0" lengthAdjust="spacingAndGlyphs">DESILT 10LF</text>
<text class="g" x="787.0" y="519.8" textLength="36.0" lengthAdjust="spacingAndGlyphs">15" RCP</text>
<text class="g" x="800.0" y="532.8" textLength="64.5" lengthAdjust="spacingAndGlyphs">DESILT &amp; LINE</text>
<text class="g" x="800.0" y="540.4" textLength="62.5" lengthAdjust="spacingAndGlyphs">40LF 15" RCP</text>
<text class="g" x="748.7" y="572.2" textLength="76.5" lengthAdjust="spacingAndGlyphs">12"x18" RCP (TO</text>
<text class="g" x="748.7" y="579.7" textLength="87.5" lengthAdjust="spacingAndGlyphs">REMAIN AS EXISTS)</text>
<text class="g" x="865.8" y="446.2" textLength="100.4" lengthAdjust="spacingAndGlyphs">REPLACE 6LF 12" PVC</text>
<text class="g" x="865.8" y="454.2" textLength="61.0" lengthAdjust="spacingAndGlyphs">WITH 15" RCP</text>
<text class="g" x="915.0" y="488.4" textLength="106.0" lengthAdjust="spacingAndGlyphs">REPLACE 22LF 12" PVC</text>
<text class="g" x="915.0" y="496.0" textLength="61.2" lengthAdjust="spacingAndGlyphs">WITH 15" RCP</text>
<text class="gl" x="841.8" y="381.9" textLength="63.8" lengthAdjust="spacingAndGlyphs">DESILT &amp; LINE</text>
<text class="gl" x="841.8" y="389.2" textLength="63.2" lengthAdjust="spacingAndGlyphs">25LF 24" RCP</text>
<text class="g" x="897.6" y="362.3" textLength="97.8" lengthAdjust="spacingAndGlyphs">PER FDOT INDEX 304,</text>
<text class="g" x="891.5" y="370.0" textLength="39.5" lengthAdjust="spacingAndGlyphs">6" THICK</text>
<text class="g" x="896.0" y="436.6" textLength="4.8" lengthAdjust="spacingAndGlyphs">E</text>
<text class="g" x="882.0" y="436.0" textLength="2.6" lengthAdjust="spacingAndGlyphs">"</text>
<ellipse class="eg" cx="876.5" cy="358.3" rx="17.8" ry="6.6"/>
<text class="gl" x="866.2" y="361.7" textLength="21.0" lengthAdjust="spacingAndGlyphs" font-size="9.2">CR L</text>
</g>
<g id="leaders">
<path class="l" d="M594.8,227L719.5,385"/>
<path class="l" d="M538,251.7L656.5,387.5"/>
<path class="l" d="M510.9,283.3L648,391"/>
<path class="l" d="M441.7,317.2L567,390"/>
<path class="l" d="M488.6,348L612,392"/>
<path class="l" d="M444.7,375.2L483.7,391.2"/>
<path class="l" d="M321.3,337.5L380.9,388.3L398,404.7"/>
<path class="l" d="M196,352.2H187.8L199.4,415.2"/>
<path class="l" d="M235.5,528.2L337.3,462L400,420.5"/>
<path class="l" d="M255.7,494.2L378.6,482.1"/>
<path class="l" d="M381.5,460V503.2"/>
<path class="l" d="M262,599L480,528L655,471"/>
<path class="l" d="M438,487L480,470.6L506.2,461"/>
<path class="l" d="M595.2,486L660,469.3"/>
<path class="l" d="M853.5,130.5H860.2M853.5,130.5L825.6,100.7"/>
<path class="l" d="M787.1,263.3H781L738.4,247.9"/>
<path class="l" d="M748,570.6H742L698.8,529.6"/>
<path class="l" d="M800,529.6L703.9,508.4"/>
<path class="l" d="M675,533.8L725,486.4"/>
<path class="l" d="M649.7,560L604.9,604"/>
<path class="l" d="M786.5,508.7H778L762.2,486"/>
<path class="l" d="M775.3,460.6L913.8,485.3"/>
<path class="l" d="M858.3,358.3L754,394.7"/>
<path class="l" d="M841,378.2L753.3,402.2"/>
<path class="l" d="M760,390L745,400"/>
<path class="k" d="M760,314H747.8L727,378"/>
<path class="k" d="M787.3,352.5H782.1L743.7,391.9"/>
<path d="M750.4,385.2L756.2,379.4" style="stroke:#000;stroke-width:2.4"/>
</g>
<g id="asbuilt-qty">
<text class="b" x="620.7" y="212.7" textLength="24.4" lengthAdjust="spacingAndGlyphs">20LF</text>
<path d="M620.7,218.4H641.7" style="stroke:#000;stroke-width:1.1"/>
<text class="b" x="564.0" y="240.6" textLength="25.2" lengthAdjust="spacingAndGlyphs">54LF</text>
<path d="M564.0,246.5H587.0" style="stroke:#000;stroke-width:1.1"/>
<text class="b" x="535.6" y="269.0" textLength="24.6" lengthAdjust="spacingAndGlyphs">69LF</text>
<path d="M535.6,275.2H560.0" style="stroke:#000;stroke-width:1.1"/>
<text class="b" x="468.9" y="360.9" textLength="29.2" lengthAdjust="spacingAndGlyphs">178LF</text>
<path d="M470.0,366.3H495.7" style="stroke:#000;stroke-width:1.1"/>
<text class="b" x="353.0" y="324.6" textLength="23.0" lengthAdjust="spacingAndGlyphs">17LF</text>
<path d="M354.0,332.3H376.6" style="stroke:#000;stroke-width:1.1"/>
<text class="b" x="378.0" y="355.7" textLength="29.7" lengthAdjust="spacingAndGlyphs">198LF</text>
<path d="M377.0,361.5H406.5" style="stroke:#000;stroke-width:1.1"/>
<text class="b" x="907.0" y="438.0" textLength="20.5" lengthAdjust="spacingAndGlyphs">11LF</text>
<path d="M908.0,443.2H925.9" style="stroke:#000;stroke-width:1.1"/>
<text class="b" x="957.3" y="480.4" textLength="22.7" lengthAdjust="spacingAndGlyphs">19LF</text>
<path d="M957.3,485.3H980.0" style="stroke:#000;stroke-width:1.1"/>
</g>
<text class="b" x="307.4" y="436.5" textLength="54.6" lengthAdjust="spacingAndGlyphs" font-size="10.2">SOUTH ST.</text>
<text class="b" x="1047.6" y="436.7" textLength="55.4" lengthAdjust="spacingAndGlyphs" font-size="10.2">SOUTH ST.</text>
<text class="bs" x="316.2" y="444.5" textLength="38.0" lengthAdjust="spacingAndGlyphs" font-size="4.6">NEW ASPHALT</text>
<text class="bs" x="1057.0" y="444.7" textLength="37.2" lengthAdjust="spacingAndGlyphs" font-size="4.6">NEW ASPHALT</text>
<text class="b" x="711.0" y="362.5" textLength="85.0" lengthAdjust="spacingAndGlyphs" font-size="11.4" transform="rotate(-90 711.0 362.5)">SUMMERLIN AVE.</text>
<text class="b" x="704.8" y="594.7" textLength="85.5" lengthAdjust="spacingAndGlyphs" font-size="11.4" transform="rotate(-90 704.8 594.7)">SUMMERLIN AVE.</text>
<text class="g" x="696.5" y="376.0" textLength="71.0" lengthAdjust="spacingAndGlyphs" font-size="9.4" transform="rotate(-90 696.5 376.0)">SUMMERLIN AVE.</text>
<text class="b" x="1208.3" y="569.3" textLength="68.7" lengthAdjust="spacingAndGlyphs" font-size="11.8" transform="rotate(-90 1208.3 569.3)">DANIELS AVE.</text>
<text class="gl" x="1197.3" y="563.6" textLength="57.7" lengthAdjust="spacingAndGlyphs" font-size="9.4" transform="rotate(-90 1197.3 563.6)">DANIELS AVE.</text>
<g id="tags">
<ellipse class="e" cx="391.1" cy="393.9" rx="21.6" ry="6.6"/>
<text class="ss" x="391.1" y="397.2" textLength="38.4" lengthAdjust="spacingAndGlyphs" text-anchor="middle">SS–1304</text>
<ellipse class="e" cx="439.9" cy="431.9" rx="21.0" ry="6.2"/>
<text class="ss" x="439.9" y="435.2" textLength="37.4" lengthAdjust="spacingAndGlyphs" text-anchor="middle">SS–1306</text>
<ellipse class="e" cx="601.3" cy="404.0" rx="22.0" ry="6.7"/>
<text class="ss" x="601.3" y="407.3" textLength="39.2" lengthAdjust="spacingAndGlyphs" text-anchor="middle">SS–1308</text>
<ellipse class="e" cx="690.4" cy="431.9" rx="19.2" ry="6.2"/>
<text class="ss" x="690.4" y="435.2" textLength="34.2" lengthAdjust="spacingAndGlyphs" text-anchor="middle">SS–1310</text>
<ellipse class="e" cx="720.0" cy="454.7" rx="19.8" ry="6.2"/>
<text class="ss" x="720.0" y="458.0" textLength="35.2" lengthAdjust="spacingAndGlyphs" text-anchor="middle">SS–1314</text>
<ellipse class="e" cx="766.8" cy="424.3" rx="20.3" ry="5.9"/>
<text class="ss" x="766.8" y="427.6" textLength="36.1" lengthAdjust="spacingAndGlyphs" text-anchor="middle">SS–1312</text>
<ellipse class="e" cx="780.8" cy="314.1" rx="20.6" ry="6.8"/>
<text class="ss" x="780.8" y="317.4" textLength="36.7" lengthAdjust="spacingAndGlyphs" text-anchor="middle">SS–1317</text>
<ellipse class="e" cx="809.6" cy="352.5" rx="22.2" ry="6.8"/>
<text class="ss" x="809.6" y="355.8" textLength="39.5" lengthAdjust="spacingAndGlyphs" text-anchor="middle">SS–1316</text>
<ellipse class="e" cx="672.6" cy="549.0" rx="20.3" ry="6.4"/>
<text class="ss" x="672.6" y="552.3" textLength="36.1" lengthAdjust="spacingAndGlyphs" text-anchor="middle">SS–1311</text>
<ellipse class="eg" cx="362.7" cy="448.5" rx="21.0" ry="6.0"/>
<text class="ssg" x="362.7" y="451.8" textLength="37.4" lengthAdjust="spacingAndGlyphs" text-anchor="middle">SS–1305</text>
<ellipse class="eg" cx="607.5" cy="447.4" rx="21.0" ry="6.0"/>
<text class="ssg" x="607.5" y="450.7" textLength="37.4" lengthAdjust="spacingAndGlyphs" text-anchor="middle">SS–1309</text>
<ellipse class="eg" cx="765.7" cy="446.2" rx="20.0" ry="6.0"/>
<text class="ssg" x="765.7" y="449.5" textLength="35.6" lengthAdjust="spacingAndGlyphs" text-anchor="middle">SS–1313</text>
<ellipse class="eg" cx="782.8" cy="474.0" rx="20.0" ry="6.0"/>
<text class="ssg" x="782.8" y="477.3" textLength="35.6" lengthAdjust="spacingAndGlyphs" text-anchor="middle">SS–1315</text>
<ellipse class="eg" cx="753.0" cy="537.0" rx="19.5" ry="5.6"/>
<text class="ssg" x="753.0" y="540.3" textLength="34.7" lengthAdjust="spacingAndGlyphs" text-anchor="middle">SS–1319</text>
</g>
<g id="sdata">
<text class="gs" x="414.0" y="393.0" textLength="29.5" lengthAdjust="spacingAndGlyphs">Curb Inlet Top:</text>
<path class="k" d="M449.1,390.5H455.3M413.3,394.5H456M413.3,399.5H451.6"/>
<text class="bs" x="456.5" y="392.2" textLength="11.0" lengthAdjust="spacingAndGlyphs">78.03</text>
<text class="bs" x="456.5" y="396.8" textLength="41.5" lengthAdjust="spacingAndGlyphs">(74.03) 24 RCP SE</text>
<text class="bs" x="456.5" y="401.4" textLength="39.5" lengthAdjust="spacingAndGlyphs">(73.96) 24 RCP W</text>
<text class="gs" x="422.0" y="441.6" textLength="27.0" lengthAdjust="spacingAndGlyphs">Manhole Top:</text>
<path class="k" d="M451.6,441.5H463.3M420.1,445.5H467M418.9,449.5H464.6"/>
<text class="bs" x="469.5" y="442.9" textLength="11.0" lengthAdjust="spacingAndGlyphs">78.32</text>
<text class="bs" x="469.5" y="447.6" textLength="50.0" lengthAdjust="spacingAndGlyphs">[74.30] 19X30 ERCP E</text>
<text class="bs" x="469.5" y="452.3" textLength="43.0" lengthAdjust="spacingAndGlyphs">[74.68] 24 RCP NW</text>
<text class="gs" x="385.9" y="469.2" textLength="46.5" lengthAdjust="spacingAndGlyphs">Curb Inlet Top: 76.41</text>
<text class="gs" x="385.9" y="473.5" textLength="38.0" lengthAdjust="spacingAndGlyphs">(71.37) 24 RCP E</text>
<text class="gs" x="385.9" y="477.7" textLength="37.0" lengthAdjust="spacingAndGlyphs">(74.57) 24 RCP S</text>
<text class="gs" x="379.7" y="494.5" textLength="23.0" lengthAdjust="spacingAndGlyphs" font-size="4.2" transform="rotate(-90 379.7 494.5)">24x24 RCP</text>
<text class="gs" x="581.0" y="391.3" textLength="30.0" lengthAdjust="spacingAndGlyphs">Curb Inlet Top:</text>
<path class="k" d="M614.3,390.5H624.8M579,394.5H623"/>
<text class="bs" x="568.0" y="391.8" textLength="11.7" lengthAdjust="spacingAndGlyphs">75.62</text>
<text class="bs" x="541.4" y="396.6" textLength="38.3" lengthAdjust="spacingAndGlyphs">(70.67) 15 RCP E</text>
<text class="gs" x="623.0" y="430.5" textLength="27.0" lengthAdjust="spacingAndGlyphs">Manhole Top:</text>
<path class="k" d="M622,432.5H666.7M622,437.5H662.4"/>
<path class="lm" d="M622,440.4H660"/>
<text class="bs" x="610.6" y="429.6" textLength="11.1" lengthAdjust="spacingAndGlyphs">75.39</text>
<text class="bs" x="572.9" y="435.0" textLength="48.8" lengthAdjust="spacingAndGlyphs">[70.56] 19X30 ERCP E</text>
<text class="bs" x="572.9" y="439.6" textLength="48.8" lengthAdjust="spacingAndGlyphs">(69.07) 19X30 ERCP S</text>
<text class="bs" x="572.9" y="444.2" textLength="48.8" lengthAdjust="spacingAndGlyphs">[70.39] 19X30 ERCP W</text>
<text class="gs" x="628.0" y="366.2" textLength="42.0" lengthAdjust="spacingAndGlyphs">Curb Inlet Top: 75.22</text>
<text class="gs" x="628.0" y="370.3" textLength="40.0" lengthAdjust="spacingAndGlyphs">(68.31) 15 RCP NE</text>
<text class="gs" x="628.0" y="374.4" textLength="40.0" lengthAdjust="spacingAndGlyphs">(68.31) 15 VCP SW</text>
<text class="gs" x="697.0" y="369.6" textLength="30.0" lengthAdjust="spacingAndGlyphs">Manhole Top: 74.8</text>
<text class="gs" x="697.0" y="373.7" textLength="26.0" lengthAdjust="spacingAndGlyphs">(69.52) 15 RCP</text>
<text class="gs" x="697.0" y="377.8" textLength="26.0" lengthAdjust="spacingAndGlyphs">(66.31) 24 RCP</text>
<path class="lf" d="M663,348V383M667.5,352V380M732,350V376"/>
<text class="gs" x="587.7" y="469.3" textLength="45.0" lengthAdjust="spacingAndGlyphs">Curb Inlet Top: 75.66</text>
<text class="gs" x="587.7" y="473.9" textLength="38.0" lengthAdjust="spacingAndGlyphs">(68.12) 24 RCP E</text>
<text class="gs" x="587.7" y="478.4" textLength="42.0" lengthAdjust="spacingAndGlyphs">(70.12) 24 RCP NW</text>
<text class="gs" x="625.4" y="484.4" textLength="38.0" lengthAdjust="spacingAndGlyphs">(68.90) 24 RCP E</text>
<text class="gs" x="625.4" y="489.0" textLength="38.0" lengthAdjust="spacingAndGlyphs">(72.07) 15 RCP S</text>
<text class="gs" x="617.5" y="527.6" textLength="30.0" lengthAdjust="spacingAndGlyphs">Curb Inlet Top:</text>
<text class="gs" x="617.5" y="532.2" textLength="38.0" lengthAdjust="spacingAndGlyphs">[72.68] 15 RCP N</text>
<path class="k" d="M651.4,526.5H665.8M615.9,534.5H661.6"/>
<text class="bs" x="603.7" y="527.9" textLength="11.3" lengthAdjust="spacingAndGlyphs">77.45</text>
<text class="bs" x="576.4" y="536.6" textLength="38.6" lengthAdjust="spacingAndGlyphs">(73.32) 15 RCP E</text>
<text class="gs" x="730.0" y="527.0" textLength="46.5" lengthAdjust="spacingAndGlyphs">Curb Inlet Top: 76.79</text>
<text class="gs" x="730.0" y="531.2" textLength="46.5" lengthAdjust="spacingAndGlyphs">(73.63) 12X18 RCP W</text>
<text class="gs" x="760.9" y="327.0" textLength="44.0" lengthAdjust="spacingAndGlyphs">Manhole Top: 74.68</text>
<path class="k" d="M759,329.5H805.4M759,333.5H805.4"/>
<text class="bs" x="805.9" y="326.6" textLength="11.1" lengthAdjust="spacingAndGlyphs">74.68</text>
<text class="bs" x="805.9" y="331.6" textLength="41.4" lengthAdjust="spacingAndGlyphs">(69.58) 15 RCP SW</text>
<text class="bs" x="805.9" y="336.6" textLength="51.7" lengthAdjust="spacingAndGlyphs">(69.56) 14X23 ERCP NE</text>
<text class="gs" x="785.6" y="366.0" textLength="27.0" lengthAdjust="spacingAndGlyphs">Manhole Top:</text>
<path class="k" d="M816.1,364.5H829.9M784.2,368.5H839.7"/>
<text class="bs" x="840.8" y="365.4" textLength="11.2" lengthAdjust="spacingAndGlyphs">75.37</text>
<text class="bs" x="840.8" y="370.4" textLength="52.4" lengthAdjust="spacingAndGlyphs">(70.54) 14X23 ERCP SW</text>
<text class="bs" x="840.8" y="379.8" textLength="39.4" lengthAdjust="spacingAndGlyphs">(69.64) 24 RCP S</text>
<text class="gs" x="787.0" y="373.0" textLength="50.0" lengthAdjust="spacingAndGlyphs">[70.39] 24 RCP N or E</text>
<text class="gs" x="787.0" y="377.0" textLength="38.0" lengthAdjust="spacingAndGlyphs">(69.63) 21 RCP S</text>
<text class="gs" x="787.0" y="381.2" textLength="41.0" lengthAdjust="spacingAndGlyphs">(70.29) 24 RCP SE</text>
<text class="gs" x="789.0" y="421.2" textLength="27.0" lengthAdjust="spacingAndGlyphs">Manhole Top:</text>
<path class="k" d="M817.8,419.5H832.2M787,424.5H828.8M787,428.5H828.8M787,432.5H830.8"/>
<text class="bs" x="835.6" y="421.6" textLength="11.0" lengthAdjust="spacingAndGlyphs">75.29</text>
<text class="bs" x="833.2" y="426.3" textLength="38.8" lengthAdjust="spacingAndGlyphs">(70.15) 24 RCP N</text>
<text class="bs" x="833.2" y="431.0" textLength="38.8" lengthAdjust="spacingAndGlyphs">(73.01) 15 RCP S</text>
<text class="bs" x="833.2" y="435.8" textLength="49.8" lengthAdjust="spacingAndGlyphs">(70.48) 19X30 ERCP W</text>
<path class="k" d="M749.3,470.5H759M717.4,475.5H759M717.4,479.5H759"/>
<text class="bs" x="686.0" y="477.0" textLength="32.0" lengthAdjust="spacingAndGlyphs">(73.46) 15 RCP</text>
<text class="bs" x="712.0" y="471.8" textLength="10.0" lengthAdjust="spacingAndGlyphs">75.20</text>
<text class="gs" x="760.0" y="466.8" textLength="38.0" lengthAdjust="spacingAndGlyphs">(71.44) 15 RCP N</text>
<text class="gs" x="735.5" y="486.8" textLength="28.8" lengthAdjust="spacingAndGlyphs" font-size="4.0">CROSSING LIGHTS</text>
<text class="bs" x="172.3" y="410.3" textLength="16.0" lengthAdjust="spacingAndGlyphs">CURB AND</text>
<text class="bs" x="174.0" y="414.0" textLength="12.5" lengthAdjust="spacingAndGlyphs">GUTTER</text>
<text class="bs" x="346.0" y="410.6" textLength="16.0" lengthAdjust="spacingAndGlyphs">CURB AND</text>
<text class="bs" x="348.0" y="414.2" textLength="12.5" lengthAdjust="spacingAndGlyphs">GUTTER</text>
<text class="bs" x="562.0" y="410.4" textLength="16.0" lengthAdjust="spacingAndGlyphs">CURB AND</text>
<text class="bs" x="564.0" y="414.2" textLength="12.5" lengthAdjust="spacingAndGlyphs">GUTTER</text>
<text class="bs" x="168.0" y="464.2" textLength="6.6" lengthAdjust="spacingAndGlyphs">EOP</text>
<text class="bs" x="552.5" y="458.6" textLength="6.6" lengthAdjust="spacingAndGlyphs">EOP</text>
<text class="bs" x="1061.3" y="459.0" textLength="6.6" lengthAdjust="spacingAndGlyphs">EOP</text>
<text class="bs" x="1103.8" y="422.4" textLength="6.6" lengthAdjust="spacingAndGlyphs">EOP</text>
<text class="bs" x="812.0" y="459.6" textLength="6.6" lengthAdjust="spacingAndGlyphs">EOP</text>
<text class="bs" x="1284.0" y="460.0" textLength="6.6" lengthAdjust="spacingAndGlyphs">EOP</text>
<text class="gs" x="506.0" y="403.0" textLength="40.0" lengthAdjust="spacingAndGlyphs" font-size="4.2">BUS STOP   BUS STOP</text>
<path class="l" d="M637.5,789.3V810M617,798.4H660L668.5,801.4M617,805H660L668.5,803.6M671.4,805.5V810"/>
<circle cx="671.4" cy="802.5" r="2.8" style="stroke:#a8a8a8;stroke-width:.9"/>
<text class="gs" x="633.5" y="797.7" textLength="22.5" lengthAdjust="spacingAndGlyphs" font-size="4.2">18x18 PVC</text>
<text class="gs" x="633.5" y="804.4" textLength="22.5" lengthAdjust="spacingAndGlyphs" font-size="4.2">18x18 PVC</text>
<text class="gs" x="675.2" y="799.8" textLength="43.0" lengthAdjust="spacingAndGlyphs">Manhole Top: 80.45</text>
<text class="gs" x="675.2" y="804.1" textLength="44.0" lengthAdjust="spacingAndGlyphs">(73.21) 18X36 RCP S</text>
<text class="gs" x="675.2" y="808.3" textLength="44.5" lengthAdjust="spacingAndGlyphs">(74.86) 18 A RCP W</text>
</g>
<g id="spots">
<circle cx="163.8" cy="416.2" r="1.05" style="fill:#000"/>
<text class="sp" transform="translate(165.0 415.8) rotate(-45)" x="1" y="1.2" textLength="11.2" lengthAdjust="spacingAndGlyphs">81.96</text>
<circle cx="191.4" cy="416.2" r="1.05" style="fill:#000"/>
<text class="sp" transform="translate(192.6 415.8) rotate(-45)" x="1" y="1.2" textLength="11.2" lengthAdjust="spacingAndGlyphs">81.86</text>
<circle cx="218.0" cy="416.2" r="1.05" style="fill:#000"/>
<text class="sp" transform="translate(219.2 415.8) rotate(-45)" x="1" y="1.2" textLength="11.2" lengthAdjust="spacingAndGlyphs">81.62</text>
<circle cx="245.7" cy="416.2" r="1.05" style="fill:#000"/>
<text class="sp" transform="translate(246.9 415.8) rotate(-45)" x="1" y="1.2" textLength="11.2" lengthAdjust="spacingAndGlyphs">80.96</text>
<circle cx="301.3" cy="416.2" r="1.05" style="fill:#000"/>
<text class="sp" transform="translate(302.5 415.8) rotate(-45)" x="1" y="1.2" textLength="11.2" lengthAdjust="spacingAndGlyphs">80.28</text>
<circle cx="329.0" cy="416.2" r="1.05" style="fill:#000"/>
<text class="sp" transform="translate(330.2 415.8) rotate(-45)" x="1" y="1.2" textLength="11.2" lengthAdjust="spacingAndGlyphs">79.94</text>
<circle cx="356.5" cy="416.2" r="1.05" style="fill:#000"/>
<text class="sp" transform="translate(357.7 415.8) rotate(-45)" x="1" y="1.2" textLength="11.2" lengthAdjust="spacingAndGlyphs">79.55</text>
<circle cx="411.5" cy="416.2" r="1.05" style="fill:#000"/>
<text class="sp" transform="translate(412.7 415.8) rotate(-45)" x="1" y="1.2" textLength="11.2" lengthAdjust="spacingAndGlyphs">78.66</text>
<circle cx="438.6" cy="416.2" r="1.05" style="fill:#000"/>
<text class="sp" transform="translate(439.8 415.8) rotate(-45)" x="1" y="1.2" textLength="11.2" lengthAdjust="spacingAndGlyphs">78.12</text>
<circle cx="470.7" cy="416.2" r="1.05" style="fill:#000"/>
<text class="sp" transform="translate(471.9 415.8) rotate(-45)" x="1" y="1.2" textLength="11.2" lengthAdjust="spacingAndGlyphs">77.14</text>
<circle cx="497.3" cy="416.2" r="1.05" style="fill:#000"/>
<text class="sp" transform="translate(498.5 415.8) rotate(-45)" x="1" y="1.2" textLength="11.2" lengthAdjust="spacingAndGlyphs">77.22</text>
<circle cx="522.3" cy="416.2" r="1.05" style="fill:#000"/>
<text class="sp" transform="translate(523.5 415.8) rotate(-45)" x="1" y="1.2" textLength="11.2" lengthAdjust="spacingAndGlyphs">76.98</text>
<circle cx="550.0" cy="416.2" r="1.05" style="fill:#000"/>
<text class="sp" transform="translate(551.2 415.8) rotate(-45)" x="1" y="1.2" textLength="11.2" lengthAdjust="spacingAndGlyphs">76.76</text>
<circle cx="577.8" cy="416.2" r="1.05" style="fill:#000"/>
<text class="sp" transform="translate(579.0 415.8) rotate(-45)" x="1" y="1.2" textLength="11.2" lengthAdjust="spacingAndGlyphs">76.28</text>
<circle cx="619.8" cy="416.2" r="1.05" style="fill:#000"/>
<text class="sp" transform="translate(621.0 415.8) rotate(-45)" x="1" y="1.2" textLength="11.2" lengthAdjust="spacingAndGlyphs">75.86</text>
<circle cx="272.9" cy="416.2" r="1.05" style="fill:#000"/>
<text class="sp" transform="translate(274.1 415.8) rotate(-45)" x="1" y="1.2" textLength="11.2" lengthAdjust="spacingAndGlyphs">80.54</text>
<circle cx="399.0" cy="411.5" r="1.05" style="fill:#000"/>
<text class="sp" transform="translate(400.2 411.1) rotate(-45)" x="1" y="1.2" textLength="11.2" lengthAdjust="spacingAndGlyphs">78.98</text>
<text class="sp" transform="translate(189.6 419.2) rotate(-45)" x="-12.2" y="1.4" textLength="11.2" lengthAdjust="spacingAndGlyphs">81.42</text>
<text class="sp" transform="translate(245.1 419.2) rotate(-45)" x="-12.2" y="1.4" textLength="11.2" lengthAdjust="spacingAndGlyphs">80.62</text>
<text class="sp" transform="translate(300.7 419.2) rotate(-45)" x="-12.2" y="1.4" textLength="11.2" lengthAdjust="spacingAndGlyphs">79.94</text>
<text class="sp" transform="translate(355.4 419.2) rotate(-45)" x="-12.2" y="1.4" textLength="11.2" lengthAdjust="spacingAndGlyphs">78.84</text>
<text class="sp" transform="translate(383.7 419.2) rotate(-45)" x="-12.2" y="1.4" textLength="11.2" lengthAdjust="spacingAndGlyphs">78.46</text>
<text class="sp" transform="translate(396.1 419.2) rotate(-45)" x="-12.2" y="1.4" textLength="11.2" lengthAdjust="spacingAndGlyphs">78.30</text>
<text class="sp" transform="translate(383.3 415.0) rotate(45)" x="-12.2" y="0" textLength="11.2" lengthAdjust="spacingAndGlyphs">79.12</text>
<text class="sp" transform="translate(437.0 415.0) rotate(45)" x="-12.2" y="0" textLength="11.2" lengthAdjust="spacingAndGlyphs">78.20</text>
<text class="sp" transform="translate(495.0 415.0) rotate(45)" x="-12.2" y="0" textLength="11.2" lengthAdjust="spacingAndGlyphs">77.30</text>
<text class="sp" transform="translate(548.0 415.0) rotate(45)" x="-12.2" y="0" textLength="11.2" lengthAdjust="spacingAndGlyphs">76.90</text>
<text class="sp" transform="translate(603.0 415.0) rotate(45)" x="-12.2" y="0" textLength="11.2" lengthAdjust="spacingAndGlyphs">76.10</text>
<circle cx="217.3" cy="440.6" r="1.05" style="fill:#000"/>
<text class="sp" transform="translate(218.5 440.2) rotate(-45)" x="1" y="1.2" textLength="11.2" lengthAdjust="spacingAndGlyphs">81.43</text>
<circle cx="273.5" cy="440.6" r="1.05" style="fill:#000"/>
<text class="sp" transform="translate(274.7 440.2) rotate(-45)" x="1" y="1.2" textLength="11.2" lengthAdjust="spacingAndGlyphs">80.67</text>
<circle cx="388.0" cy="440.6" r="1.05" style="fill:#000"/>
<text class="sp" transform="translate(389.2 440.2) rotate(-45)" x="1" y="1.2" textLength="11.2" lengthAdjust="spacingAndGlyphs">78.81</text>
<circle cx="494.8" cy="440.6" r="1.05" style="fill:#000"/>
<text class="sp" transform="translate(496.0 440.2) rotate(-45)" x="1" y="1.2" textLength="11.2" lengthAdjust="spacingAndGlyphs">77.66</text>
<circle cx="550.7" cy="438.0" r="1.05" style="fill:#000"/>
<text class="sp" transform="translate(551.9 437.6) rotate(-45)" x="1" y="1.2" textLength="11.2" lengthAdjust="spacingAndGlyphs">76.98</text>
<circle cx="219.8" cy="464.5" r="1.05" style="fill:#000"/>
<text class="sp" transform="translate(221.0 464.1) rotate(-45)" x="1" y="1.2" textLength="11.2" lengthAdjust="spacingAndGlyphs">80.88</text>
<circle cx="301.9" cy="462.8" r="1.05" style="fill:#000"/>
<text class="sp" transform="translate(303.1 462.4) rotate(-45)" x="1" y="1.2" textLength="11.2" lengthAdjust="spacingAndGlyphs">79.70</text>
<circle cx="356.5" cy="461.8" r="1.05" style="fill:#000"/>
<text class="sp" transform="translate(357.7 461.4) rotate(-45)" x="1" y="1.2" textLength="11.2" lengthAdjust="spacingAndGlyphs">79.05</text>
<circle cx="440.5" cy="460.2" r="1.05" style="fill:#000"/>
<text class="sp" transform="translate(441.7 459.8) rotate(-45)" x="1" y="1.2" textLength="11.2" lengthAdjust="spacingAndGlyphs">77.96</text>
<circle cx="521.7" cy="459.2" r="1.05" style="fill:#000"/>
<text class="sp" transform="translate(522.9 458.8) rotate(-45)" x="1" y="1.2" textLength="11.2" lengthAdjust="spacingAndGlyphs">77.04</text>
<circle cx="604.4" cy="459.3" r="1.05" style="fill:#000"/>
<text class="sp" transform="translate(605.6 458.9) rotate(-45)" x="1" y="1.2" textLength="11.2" lengthAdjust="spacingAndGlyphs">76.03</text>
<circle cx="632.2" cy="459.4" r="1.05" style="fill:#000"/>
<text class="sp" transform="translate(633.4 459.0) rotate(-45)" x="1" y="1.2" textLength="11.2" lengthAdjust="spacingAndGlyphs">75.89</text>
<circle cx="688.5" cy="417.8" r="1.05" style="fill:#000"/>
<text class="sp" transform="translate(689.7 417.4) rotate(-45)" x="1" y="1.2" textLength="11.2" lengthAdjust="spacingAndGlyphs">75.57</text>
<circle cx="716.7" cy="419.0" r="1.05" style="fill:#000"/>
<text class="sp" transform="translate(715.7 418.0) rotate(45)" x="-12.2" y="0" textLength="11.2" lengthAdjust="spacingAndGlyphs">75.19</text>
<circle cx="688.5" cy="459.6" r="1.05" style="fill:#000"/>
<text class="sp" transform="translate(689.7 459.2) rotate(-45)" x="1" y="1.2" textLength="11.2" lengthAdjust="spacingAndGlyphs">75.08</text>
<text class="sp" transform="translate(662.5 465.5) rotate(45)" x="-12.2" y="0" textLength="11.2" lengthAdjust="spacingAndGlyphs">75.17</text>
<circle cx="668.0" cy="494.0" r="1.05" style="fill:#000"/>
<text class="sp" transform="translate(669.2 493.6) rotate(-45)" x="1" y="1.2" textLength="11.2" lengthAdjust="spacingAndGlyphs">75.42</text>
<text class="sp" transform="translate(665.4 483.6) rotate(-45)" x="-12.2" y="1.4" textLength="11.2" lengthAdjust="spacingAndGlyphs">75.20</text>
<circle cx="714.0" cy="503.8" r="1.05" style="fill:#000"/>
<text class="sp" transform="translate(715.2 503.4) rotate(-45)" x="1" y="1.2" textLength="11.2" lengthAdjust="spacingAndGlyphs">75.55</text>
<circle cx="726.0" cy="504.8" r="1.05" style="fill:#000"/>
<text class="sp" transform="translate(727.2 504.4) rotate(-45)" x="1" y="1.2" textLength="11.2" lengthAdjust="spacingAndGlyphs">75.68</text>
<circle cx="726.0" cy="490.0" r="1.05" style="fill:#000"/>
<text class="sp" transform="translate(727.2 489.6) rotate(-45)" x="1" y="1.2" textLength="11.2" lengthAdjust="spacingAndGlyphs">75.35</text>
<text class="sp" transform="translate(728.4 475.6) rotate(-45)" x="-12.2" y="1.4" textLength="11.2" lengthAdjust="spacingAndGlyphs">75.10</text>
<circle cx="667.0" cy="375.0" r="1.05" style="fill:#000"/>
<text class="sp" transform="translate(668.2 374.6) rotate(-45)" x="1" y="1.2" textLength="11.2" lengthAdjust="spacingAndGlyphs">74.92</text>
<circle cx="670.0" cy="386.0" r="1.05" style="fill:#000"/>
<text class="sp" transform="translate(671.2 385.6) rotate(-45)" x="1" y="1.2" textLength="11.2" lengthAdjust="spacingAndGlyphs">74.88</text>
<circle cx="646.0" cy="390.5" r="1.05" style="fill:#000"/>
<text class="sp" transform="translate(647.2 390.1) rotate(-45)" x="1" y="1.2" textLength="11.2" lengthAdjust="spacingAndGlyphs">75.74</text>
<text class="sp" transform="translate(643.4 399.6) rotate(-45)" x="-12.2" y="1.4" textLength="11.2" lengthAdjust="spacingAndGlyphs">75.32</text>
<text class="sp" transform="translate(651.4 409.6) rotate(-45)" x="-12.2" y="1.4" textLength="11.2" lengthAdjust="spacingAndGlyphs">75.18</text>
<circle cx="638.0" cy="412.0" r="1.05" style="fill:#000"/>
<text class="sp" transform="translate(639.2 411.6) rotate(-45)" x="1" y="1.2" textLength="11.2" lengthAdjust="spacingAndGlyphs">75.62</text>
<text class="sp" transform="translate(660.0 401.0) rotate(45)" x="-12.2" y="0" textLength="11.2" lengthAdjust="spacingAndGlyphs">74.98</text>
<circle cx="699.0" cy="385.5" r="1.05" style="fill:#000"/>
<text class="sp" transform="translate(700.2 385.1) rotate(-45)" x="1" y="1.2" textLength="11.2" lengthAdjust="spacingAndGlyphs">75.78</text>
<circle cx="724.0" cy="386.0" r="1.05" style="fill:#000"/>
<text class="sp" transform="translate(725.2 385.6) rotate(-45)" x="1" y="1.2" textLength="11.2" lengthAdjust="spacingAndGlyphs">74.86</text>
<circle cx="733.0" cy="378.0" r="1.05" style="fill:#000"/>
<text class="sp" transform="translate(734.2 377.6) rotate(-45)" x="1" y="1.2" textLength="11.2" lengthAdjust="spacingAndGlyphs">74.77</text>
<text class="sp" transform="translate(735.4 397.6) rotate(-45)" x="-12.2" y="1.4" textLength="11.2" lengthAdjust="spacingAndGlyphs">74.95</text>
<circle cx="746.0" cy="398.0" r="1.05" style="fill:#000"/>
<text class="sp" transform="translate(747.2 397.6) rotate(-45)" x="1" y="1.2" textLength="11.2" lengthAdjust="spacingAndGlyphs">75.25</text>
<circle cx="749.0" cy="405.0" r="1.05" style="fill:#000"/>
<text class="sp" transform="translate(750.2 404.6) rotate(-45)" x="1" y="1.2" textLength="11.2" lengthAdjust="spacingAndGlyphs">74.90</text>
<circle cx="752.0" cy="412.0" r="1.05" style="fill:#000"/>
<text class="sp" transform="translate(753.2 411.6) rotate(-45)" x="1" y="1.2" textLength="11.2" lengthAdjust="spacingAndGlyphs">75.15</text>
<circle cx="757.0" cy="417.5" r="1.05" style="fill:#000"/>
<text class="sp" transform="translate(758.2 417.1) rotate(-45)" x="1" y="1.2" textLength="11.2" lengthAdjust="spacingAndGlyphs">75.46</text>
<text class="sp" transform="translate(744.0 411.0) rotate(45)" x="-12.2" y="0" textLength="11.2" lengthAdjust="spacingAndGlyphs">75.20</text>
<text class="sp" transform="translate(738.4 403.6) rotate(-45)" x="-12.2" y="1.4" textLength="11.2" lengthAdjust="spacingAndGlyphs">75.05</text>
<circle cx="761.6" cy="419.4" r="1.05" style="fill:#000"/>
<text class="sp" transform="translate(762.8 419.0) rotate(-45)" x="1" y="1.2" textLength="11.2" lengthAdjust="spacingAndGlyphs">75.54</text>
<circle cx="827.4" cy="419.4" r="1.05" style="fill:#000"/>
<text class="sp" transform="translate(828.6 419.0) rotate(-45)" x="1" y="1.2" textLength="11.2" lengthAdjust="spacingAndGlyphs">75.88</text>
<circle cx="854.8" cy="419.4" r="1.05" style="fill:#000"/>
<text class="sp" transform="translate(856.0 419.0) rotate(-45)" x="1" y="1.2" textLength="11.2" lengthAdjust="spacingAndGlyphs">76.14</text>
<circle cx="909.7" cy="419.4" r="1.05" style="fill:#000"/>
<text class="sp" transform="translate(910.9 419.0) rotate(-45)" x="1" y="1.2" textLength="11.2" lengthAdjust="spacingAndGlyphs">76.77</text>
<circle cx="993.7" cy="419.4" r="1.05" style="fill:#000"/>
<text class="sp" transform="translate(994.9 419.0) rotate(-45)" x="1" y="1.2" textLength="11.2" lengthAdjust="spacingAndGlyphs">76.96</text>
<circle cx="1076.4" cy="419.4" r="1.05" style="fill:#000"/>
<text class="sp" transform="translate(1077.6 419.0) rotate(-45)" x="1" y="1.2" textLength="11.2" lengthAdjust="spacingAndGlyphs">77.30</text>
<circle cx="1159.2" cy="419.4" r="1.05" style="fill:#000"/>
<text class="sp" transform="translate(1160.4 419.0) rotate(-45)" x="1" y="1.2" textLength="11.2" lengthAdjust="spacingAndGlyphs">77.95</text>
<circle cx="1234.3" cy="419.4" r="1.05" style="fill:#000"/>
<text class="sp" transform="translate(1235.5 419.0) rotate(-45)" x="1" y="1.2" textLength="11.2" lengthAdjust="spacingAndGlyphs">77.96</text>
<circle cx="748.0" cy="440.0" r="1.05" style="fill:#000"/>
<text class="sp" transform="translate(749.2 439.6) rotate(-45)" x="1" y="1.2" textLength="11.2" lengthAdjust="spacingAndGlyphs">75.04</text>
<circle cx="800.0" cy="440.5" r="1.05" style="fill:#000"/>
<text class="sp" transform="translate(799.4 442.1) rotate(-45)" x="-12.2" y="1.4" textLength="11.2" lengthAdjust="spacingAndGlyphs">76.24</text>
<circle cx="968.0" cy="440.4" r="1.05" style="fill:#000"/>
<text class="sp" transform="translate(969.2 440.0) rotate(-45)" x="1" y="1.2" textLength="11.2" lengthAdjust="spacingAndGlyphs">77.06</text>
<circle cx="1021.5" cy="440.4" r="1.05" style="fill:#000"/>
<text class="sp" transform="translate(1022.7 440.0) rotate(-45)" x="1" y="1.2" textLength="11.2" lengthAdjust="spacingAndGlyphs">77.50</text>
<circle cx="1131.7" cy="440.3" r="1.05" style="fill:#000"/>
<text class="sp" transform="translate(1132.9 439.9) rotate(-45)" x="1" y="1.2" textLength="11.2" lengthAdjust="spacingAndGlyphs">78.02</text>
<circle cx="1158.8" cy="432.3" r="1.05" style="fill:#000"/>
<text class="sp" transform="translate(1160.0 431.9) rotate(-45)" x="1" y="1.2" textLength="11.2" lengthAdjust="spacingAndGlyphs">78.85</text>
<circle cx="1187.0" cy="440.3" r="1.05" style="fill:#000"/>
<text class="sp" transform="translate(1188.2 439.9) rotate(-45)" x="1" y="1.2" textLength="11.2" lengthAdjust="spacingAndGlyphs">78.27</text>
<circle cx="1243.9" cy="441.0" r="1.05" style="fill:#000"/>
<text class="sp" transform="translate(1245.1 440.6) rotate(-45)" x="1" y="1.2" textLength="11.2" lengthAdjust="spacingAndGlyphs">78.11</text>
<circle cx="1187.2" cy="461.0" r="1.05" style="fill:#000"/>
<text class="sp" transform="translate(1188.4 460.6) rotate(-45)" x="1" y="1.2" textLength="11.2" lengthAdjust="spacingAndGlyphs">78.06</text>
<circle cx="1213.8" cy="461.0" r="1.05" style="fill:#000"/>
<text class="sp" transform="translate(1215.0 460.6) rotate(-45)" x="1" y="1.2" textLength="11.2" lengthAdjust="spacingAndGlyphs">78.14</text>
<circle cx="744.0" cy="466.0" r="1.05" style="fill:#000"/>
<text class="sp" transform="translate(745.2 465.6) rotate(-45)" x="1" y="1.2" textLength="11.2" lengthAdjust="spacingAndGlyphs">74.95</text>
<circle cx="762.2" cy="458.8" r="1.05" style="fill:#000"/>
<text class="sp" transform="translate(763.4 458.4) rotate(-45)" x="1" y="1.2" textLength="11.2" lengthAdjust="spacingAndGlyphs">75.06</text>
<circle cx="768.4" cy="459.9" r="1.05" style="fill:#000"/>
<text class="sp" transform="translate(769.6 459.5) rotate(-45)" x="1" y="1.2" textLength="11.2" lengthAdjust="spacingAndGlyphs">75.38</text>
<circle cx="773.9" cy="461.0" r="1.05" style="fill:#000"/>
<text class="sp" transform="translate(775.1 460.6) rotate(-45)" x="1" y="1.2" textLength="11.2" lengthAdjust="spacingAndGlyphs">75.54</text>
<circle cx="800.0" cy="461.0" r="1.05" style="fill:#000"/>
<text class="sp" transform="translate(801.2 460.6) rotate(-45)" x="1" y="1.2" textLength="11.2" lengthAdjust="spacingAndGlyphs">76.12</text>
<circle cx="855.5" cy="461.0" r="1.05" style="fill:#000"/>
<text class="sp" transform="translate(856.7 460.6) rotate(-45)" x="1" y="1.2" textLength="11.2" lengthAdjust="spacingAndGlyphs">76.60</text>
<circle cx="938.5" cy="461.2" r="1.05" style="fill:#000"/>
<text class="sp" transform="translate(939.7 460.8) rotate(-45)" x="1" y="1.2" textLength="11.2" lengthAdjust="spacingAndGlyphs">76.96</text>
<circle cx="1020.4" cy="461.3" r="1.05" style="fill:#000"/>
<text class="sp" transform="translate(1021.6 460.9) rotate(-45)" x="1" y="1.2" textLength="11.2" lengthAdjust="spacingAndGlyphs">77.26</text>
<circle cx="1131.7" cy="461.0" r="1.05" style="fill:#000"/>
<text class="sp" transform="translate(1132.9 460.6) rotate(-45)" x="1" y="1.2" textLength="11.2" lengthAdjust="spacingAndGlyphs">77.94</text>
<circle cx="1158.2" cy="467.4" r="1.05" style="fill:#000"/>
<text class="sp" transform="translate(1159.4 467.0) rotate(-45)" x="1" y="1.2" textLength="11.2" lengthAdjust="spacingAndGlyphs">77.88</text>
<circle cx="1176.2" cy="490.0" r="1.05" style="fill:#000"/>
<text class="sp" transform="translate(1177.4 489.6) rotate(-45)" x="1" y="1.2" textLength="11.2" lengthAdjust="spacingAndGlyphs">77.86</text>
<circle cx="1201.0" cy="491.3" r="1.05" style="fill:#000"/>
<text class="sp" transform="translate(1202.2 490.9) rotate(-45)" x="1" y="1.2" textLength="11.2" lengthAdjust="spacingAndGlyphs">78.04</text>
<circle cx="1215.3" cy="492.1" r="1.05" style="fill:#000"/>
<text class="sp" transform="translate(1216.5 491.7) rotate(-45)" x="1" y="1.2" textLength="11.2" lengthAdjust="spacingAndGlyphs">77.77</text>
<circle cx="1241.3" cy="461.6" r="1.05" style="fill:#000"/>
<text class="sp" transform="translate(1242.5 461.2) rotate(-45)" x="1" y="1.2" textLength="11.2" lengthAdjust="spacingAndGlyphs">77.66</text>
<circle cx="1259.0" cy="461.6" r="1.05" style="fill:#000"/>
<text class="sp" transform="translate(1260.2 461.2) rotate(-45)" x="1" y="1.2" textLength="11.2" lengthAdjust="spacingAndGlyphs">77.98</text>
<circle cx="1236.5" cy="466.5" r="1.05" style="fill:#000"/>
<text class="sp" transform="translate(1235.9 468.1) rotate(-45)" x="-12.2" y="1.4" textLength="11.2" lengthAdjust="spacingAndGlyphs">77.72</text>
<text class="sp" transform="translate(756.5 470.5) rotate(45)" x="-12.2" y="0" textLength="11.2" lengthAdjust="spacingAndGlyphs">75.88</text>
</g>
</svg>
</body></html>
